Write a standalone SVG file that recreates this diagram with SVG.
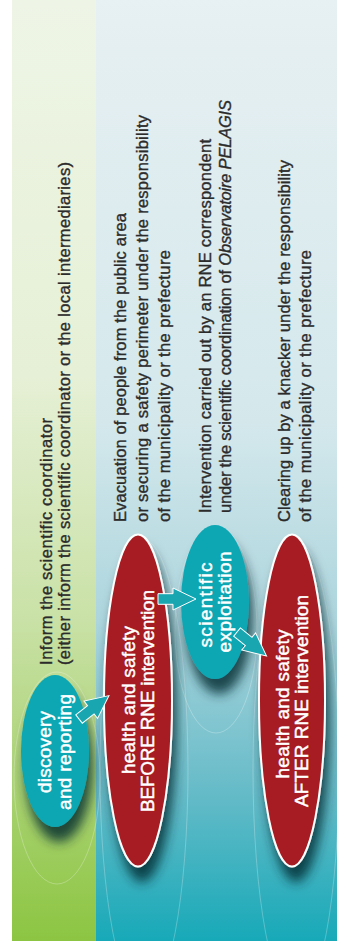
<svg xmlns="http://www.w3.org/2000/svg" width="337" height="948" viewBox="0 0 337 948">
  <style>
    .desc { font-family: "Liberation Sans", Arial, sans-serif; font-size: 16.5px; fill: #2b2b2b; stroke: #2b2b2b; stroke-width: 0.35; }
    .lbl { font-family: "Liberation Sans", Arial, sans-serif; font-size: 19px; fill: #ffffff; stroke: #ffffff; stroke-width: 0.45; text-anchor: middle; }
    .red { fill: #a61d23; stroke: #ffffff; stroke-width: 2; }
    .teal { fill: #10a7b4; }
    .ghost { fill: none; stroke: #ffffff; stroke-opacity: 0.32; stroke-width: 0.8; }
    .arrow { fill: #19a6b1; stroke: #ffffff; stroke-width: 1; stroke-linejoin: miter; }
  </style>
  <defs>
    <linearGradient id="gGreen" x1="0" y1="0" x2="0" y2="1">
      <stop offset="0" stop-color="#eef5e6"/>
      <stop offset="0.4" stop-color="#e6f0d6"/>
      <stop offset="0.66" stop-color="#c9e1a6"/>
      <stop offset="1" stop-color="#8cc542"/>
    </linearGradient>
    <linearGradient id="gBlue" x1="0" y1="0" x2="0" y2="1">
      <stop offset="0" stop-color="#e7f0f2"/>
      <stop offset="0.45" stop-color="#d4e8ec"/>
      <stop offset="0.66" stop-color="#acd5dd"/>
      <stop offset="0.85" stop-color="#62bac7"/>
      <stop offset="1" stop-color="#17a9b8"/>
    </linearGradient>
    <filter id="shadow" x="-50%" y="-20%" width="200%" height="150%">
      <feGaussianBlur in="SourceAlpha" stdDeviation="6"/>
      <feOffset dx="4" dy="15" result="b"/>
      <feFlood flood-color="#06282e" flood-opacity="0.8"/>
      <feComposite in2="b" operator="in"/>
      <feMerge><feMergeNode/><feMergeNode in="SourceGraphic"/></feMerge>
    </filter>
    <clipPath id="panel"><rect x="12" y="0" width="325" height="941"/></clipPath>
    <path id="arr" d="M0,-5.3 L15,-5.3 L15,-11 L38,0 L15,11 L15,5.3 L0,5.3 Z"/>
  </defs>

  <rect x="0" y="0" width="337" height="948" fill="#ffffff"/>
  <rect x="12" y="0" width="84" height="941" fill="url(#gGreen)"/>
  <rect x="96" y="0" width="241" height="941" fill="url(#gBlue)"/>

  <g id="ghosts" clip-path="url(#panel)">
    <ellipse class="ghost" cx="57" cy="778" rx="43" ry="106"/>
    <ellipse class="ghost" cx="216" cy="630" rx="41" ry="103"/>
    <ellipse class="ghost" cx="144" cy="770" rx="44" ry="230"/>
    <ellipse class="ghost" cx="296" cy="770" rx="43" ry="230"/>
  </g>

  <g id="note-inform" class="desc" transform="rotate(-90)">
    <text x="-665" y="52" textLength="247">Inform the scientific coordinator</text>
    <text x="-665" y="69.5" textLength="503">(either inform the scientific coordinator or the local intermediaries)</text>
  </g>
  <g id="note-evacuation" class="desc" transform="rotate(-90)">
    <text x="-522" y="126" textLength="309">Evacuation of people from the public area</text>
    <text x="-522" y="148" textLength="407">or securing a safety perimeter under the responsibility</text>
    <text x="-522" y="169.5" textLength="272">of the municipality or the prefecture</text>
  </g>
  <g id="note-intervention" class="desc" transform="rotate(-90)">
    <text x="-513" y="210.5" textLength="374">Intervention carried out by an RNE correspondent</text>
    <text x="-513" y="231" textLength="413">under the scientific coordination of <tspan font-style="italic">Observatoire PELAGIS</tspan></text>
  </g>
  <g id="note-clearing" class="desc" transform="rotate(-90)">
    <text x="-522" y="290" textLength="362">Clearing up by a knacker under the responsibility</text>
    <text x="-522" y="311" textLength="272">of the municipality or the prefecture</text>
  </g>

  <g id="node-discovery">
    <ellipse class="teal" cx="55" cy="751" rx="34" ry="76" filter="url(#shadow)"/>
    <g class="lbl" transform="rotate(-90)">
      <text x="-752" y="51" textLength="82">discovery</text>
      <text x="-752" y="70.5" textLength="116">and reporting</text>
    </g>
  </g>

  <g id="node-before">
    <ellipse class="red" cx="138" cy="700.5" rx="34" ry="166" filter="url(#shadow)"/>
    <g class="lbl" transform="rotate(-90)">
      <text x="-700" y="134.5" textLength="148">health and safety</text>
      <text x="-701" y="154" textLength="222">BEFORE RNE intervention</text>
    </g>
  </g>

  <g id="node-scientific">
    <ellipse class="teal" cx="215" cy="602" rx="34" ry="77" filter="url(#shadow)"/>
    <g class="lbl" transform="rotate(-90)">
      <text x="-605" y="212" textLength="85">scientific</text>
      <text x="-602" y="231" textLength="101">exploitation</text>
    </g>
  </g>

  <g id="node-after">
    <ellipse class="red" cx="292" cy="700.5" rx="33" ry="166" filter="url(#shadow)"/>
    <g class="lbl" transform="rotate(-90)">
      <text x="-704" y="288.5" textLength="149">health and safety</text>
      <text x="-701" y="308" textLength="212">AFTER RNE intervention</text>
    </g>
  </g>

  <g id="connectors">
    <use href="#arr" class="arrow" transform="translate(79,719) rotate(-38)"/>
    <use href="#arr" class="arrow" transform="translate(158,599)"/>
    <use href="#arr" class="arrow" transform="translate(237,632) rotate(39)"/>
  </g>
</svg>
